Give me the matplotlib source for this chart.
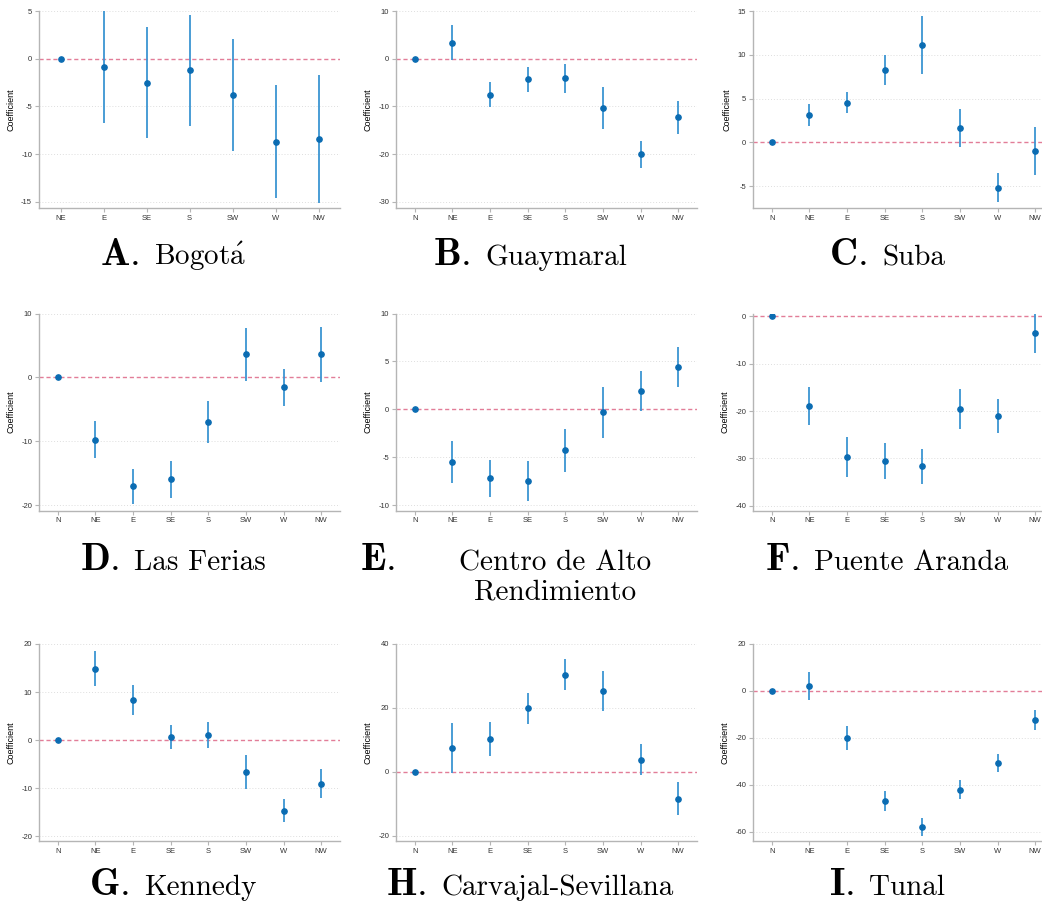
import numpy as np
import matplotlib
matplotlib.use("Agg")
import matplotlib.pyplot as plt
from matplotlib.offsetbox import TextArea, HPacker, AnnotationBbox

plt.rcParams["font.family"] = ["Liberation Sans", "DejaVu Sans"]
plt.rcParams["mathtext.fontset"] = "cm"

# ─── DATA (point estimate and half-width of the 95% CI) ─────────────────────
dirs = ["N", "NE", "E", "SE", "S", "SW", "W", "NW"]

est_a = [0.0, -0.87, -2.51, -1.22, -3.80, -8.69, -8.41]     # Bogotá has no N
ci_a = [0.0, 5.87, 5.80, 5.78, 5.85, 5.90, 6.70]
est_b = [0.0, 3.38, -7.52, -4.34, -4.14, -10.34, -20.07, -12.28]
ci_b = [0.0, 3.70, 2.55, 2.65, 2.95, 4.40, 2.76, 3.45]
est_c = [0.0, 3.11, 4.52, 8.28, 11.09, 1.60, -5.17, -1.03]
ci_c = [0.0, 1.22, 1.20, 1.69, 3.30, 2.18, 1.70, 2.74]
est_d = [0.0, -9.70, -17.03, -15.90, -6.93, 3.60, -1.52, 3.60]
ci_d = [0.0, 2.88, 2.75, 2.88, 3.25, 4.15, 2.90, 4.35]
est_e = [0.0, -5.50, -7.20, -7.48, -4.28, -0.31, 1.95, 4.42]
ci_e = [0.0, 2.15, 1.91, 2.10, 2.25, 2.63, 2.09, 2.12]
est_f = [0.0, -18.94, -29.68, -30.60, -31.70, -19.60, -21.06, -3.46]
ci_f = [0.0, 4.10, 4.20, 3.80, 3.65, 4.25, 3.55, 4.20]
est_g = [0.0, 14.89, 8.35, 0.63, 1.11, -6.68, -14.68, -9.04]
ci_g = [0.0, 3.58, 3.03, 2.58, 2.72, 3.48, 2.40, 2.99]
est_h = [0.0, 7.50, 10.30, 19.90, 30.40, 25.30, 3.85, -8.33]
ci_h = [0.0, 7.95, 5.35, 4.85, 4.85, 6.20, 4.80, 5.10]
est_i = [0.0, 2.27, -20.14, -46.95, -58.00, -42.10, -30.80, -12.60]
ci_i = [0.0, 6.00, 5.00, 4.15, 4.00, 3.90, 3.85, 4.25]

letters = ["A.", "B.", "C.", "D.", "E.", "F.", "G.", "H.", "I."]
names = [r"$\mathrm{Bogot\acute{a}}$", "Guaymaral", "Suba", "Las Ferias",
         "Centro de Alto\nRendimiento", "Puente Aranda", "Kennedy",
         "Carvajal-Sevillana", "Tunal"]

ylims = [(-15.63, 5), (-31.3, 10), (-7.5, 15),
         (-20.8, 10), (-10.55, 10), (-41.0, 0.6),
         (-21.0, 20), (-21.6, 40), (-64.0, 20)]
yticks = [np.arange(-15, 6, 5), np.arange(-30, 11, 10), np.arange(-5, 16, 5),
          np.arange(-20, 11, 10), np.arange(-10, 11, 5), np.arange(-40, 1, 10),
          np.arange(-20, 21, 10), np.arange(-20, 41, 20), np.arange(-60, 21, 20)]

panels = [(dirs[1:], est_a, ci_a), (dirs, est_b, ci_b), (dirs, est_c, ci_c),
          (dirs, est_d, ci_d), (dirs, est_e, ci_e), (dirs, est_f, ci_f),
          (dirs, est_g, ci_g), (dirs, est_h, ci_h), (dirs, est_i, ci_i)]

# ─── LAYOUT (pixels of a 1042x909 canvas) ───────────────────────────────────
W, H = 1042, 909
col_left = [39, 396, 753]
row_bottom = [208, 510.5, 841]
ax_w, ax_h = 301, 197
title_x = [173, 530, 887]
title_y = [255, 560, 885]

fig = plt.figure(figsize=(W / 100, H / 100), dpi=100)

grey = "#b5b5b5"
for k, (cats, est, ci) in enumerate(panels):
    r, c = divmod(k, 3)
    ax = fig.add_axes([col_left[c] / W, 1 - row_bottom[r] / H, ax_w / W, ax_h / H])
    x = np.arange(len(cats))
    est = np.asarray(est)
    ci = np.asarray(ci)

    for yt in yticks[k]:
        if yt != 0:
            ax.axhline(yt, color="#dedede", lw=0.7, ls=(0, (1, 2)), zorder=0)
    ax.axhline(0, color="#e27d98", lw=1.0, ls=(0, (3, 2)), zorder=1)
    ax.vlines(x, est - ci, est + ci, color="#3c95d2", lw=1.3, zorder=2)
    ax.plot(x, est, "o", ms=3.8, color="#0b6cb2", zorder=3)

    ax.set_xlim(-0.5, len(cats) - 0.5)
    ax.set_ylim(*ylims[k])
    ax.set_xticks(x)
    ax.set_xticklabels(cats)
    ax.set_yticks(yticks[k])
    ax.set_yticklabels([str(int(v)) for v in yticks[k]])
    ax.set_ylabel("Coefficient", fontsize=6.5, labelpad=4)
    for s in ["top", "right"]:
        ax.spines[s].set_visible(False)
    for s in ["left", "bottom"]:
        ax.spines[s].set_color(grey)
        ax.spines[s].set_linewidth(1.0)
    ax.tick_params(axis="both", colors=grey, labelcolor="#333333",
                   labelsize=5.5, length=3, width=0.8, pad=2)

    # panel caption under the axes
    xf, yf = title_x[c] / W, 1 - title_y[r] / H
    if k == 4:
        fig.text(377 / W, 1 - 560 / H, r"$\mathbf{E.}$", fontsize=28,
                 ha="center", va="center")
        fig.text(555 / W, 1 - 578 / H, names[k], fontsize=21, family="cmr10",
                 ha="center", va="center", linespacing=1.1)
        continue
    lab = TextArea(r"$\mathbf{%s}$" % letters[k], textprops=dict(fontsize=28))
    if names[k].startswith("$"):
        nm = TextArea(names[k], textprops=dict(fontsize=21))
    else:
        nm = TextArea(names[k], textprops=dict(fontsize=21, family="cmr10"))
    box = HPacker(children=[lab, nm], sep=11, align="baseline", pad=0)
    ab = AnnotationBbox(box, (xf, yf), xycoords="figure fraction",
                        frameon=False, box_alignment=(0.5, 0.5))
    fig.add_artist(ab)

fig.savefig("out.png", dpi=100)
